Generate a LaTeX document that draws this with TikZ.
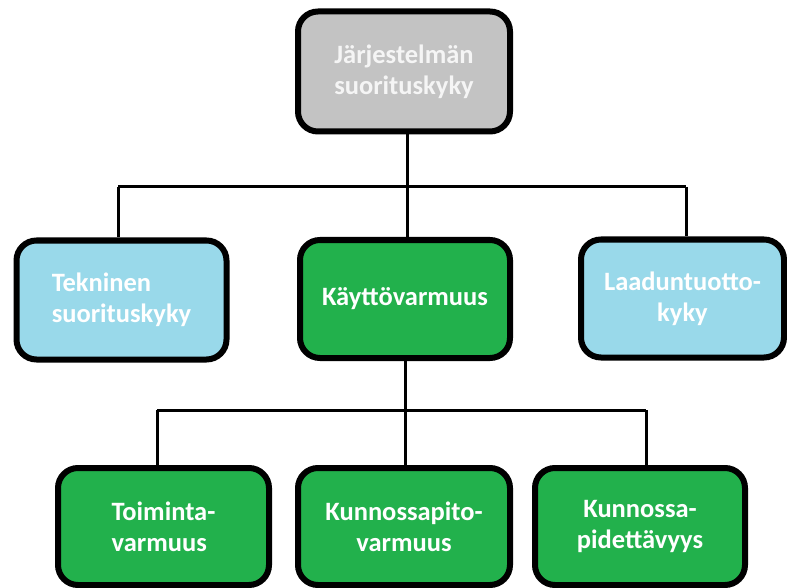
\documentclass[tikz,border=0pt]{standalone}
\usepackage{fontspec}
\setmainfont{Carlito}
\begin{document}
\begin{tikzpicture}[x=1pt,y=-1pt,
  box/.style={draw=black,line width=6pt,rounded corners=20pt,
    font=\fontsize{26.5}{31}\selectfont\bfseries,text=white,
    minimum height=118pt,inner sep=0pt},
  greybox/.style={box,fill=boxgrey,text=white!92!gray},
  bluebox/.style={box,fill=boxblue},
  greenbox/.style={box,fill=boxgreen},
  link/.style={draw=black,line width=3pt}]
\definecolor{boxgrey}{HTML}{C3C3C3}
\definecolor{boxblue}{HTML}{99D9EA}
\definecolor{boxgreen}{HTML}{22B14C}
\useasboundingbox (0,0) rectangle (787,588);

% top level
\node[greybox,minimum width=212pt,minimum height=120pt,align=center] (top) at (404,71.5) {Järjestelmän\\suorituskyky};

% second level
\node[bluebox,minimum width=210pt,minimum height=119pt,align=left] (tek) at (121.5,300) {Tekninen\\suorituskyky};
\node[greenbox,minimum width=210pt,align=center] (kay) at (405,299) {Käyttövarmuus};
\node[bluebox,minimum width=203pt,align=center] (laa) at (682.5,298.5) {Laaduntuotto-\\kyky};

% third level
\node[greenbox,minimum width=211pt,minimum height=117pt,align=left] (toi) at (163.5,526.5) {Toiminta-\\varmuus};
\node[greenbox,minimum width=212pt,minimum height=117pt,align=center] (kun) at (404,526.5) {Kunnossapito-\\varmuus};
\node[greenbox,minimum width=210pt,minimum height=117pt,align=center] (pid) at (640,526.5) {Kunnossa-\\pidettävyys};

% bus junctions
\coordinate (busA) at (407,187);
\coordinate (aL) at (118,187);
\coordinate (aR) at (686,187);
\coordinate (busB) at (405,410);
\coordinate (bL) at (157,410);
\coordinate (bR) at (646,410);

\draw[link] (top.south -| busA) -- (busA);
\draw[link] (aL) -- (aR);
\draw[link] (aL) -- (aL |- tek.north);
\draw[link] (busA) -- (busA |- kay.north);
\draw[link] (aR) -- (aR |- laa.north);

\draw[link] (kay.south -| busB) -- (busB);
\draw[link] (bL) -- (bR);
\draw[link] (bL) -- (bL |- toi.north);
\draw[link] (busB) -- (busB |- kun.north);
\draw[link] (bR) -- (bR |- pid.north);
\end{tikzpicture}
\end{document}
